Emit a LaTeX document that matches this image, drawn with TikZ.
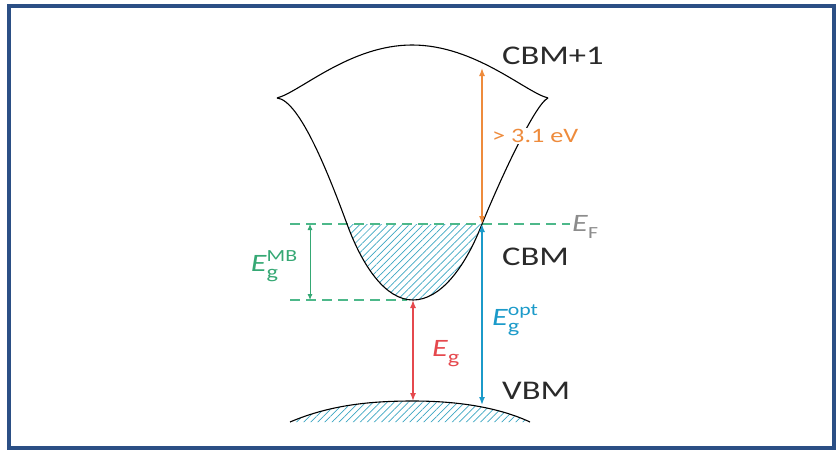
\documentclass[tikz,border=0pt]{standalone}
\usepackage{fontspec}
\setmainfont{Carlito}
\newfontfamily\lbl[FakeStretch=1.28]{Carlito}
\usetikzlibrary{arrows.meta,patterns.meta}
\definecolor{framec}{HTML}{2B4F85}
\definecolor{grn}{HTML}{35A874}
\definecolor{dashc}{HTML}{4DB88A}
\definecolor{hatchc}{HTML}{3CA6C2}
\definecolor{bluec}{HTML}{1B9AC9}
\definecolor{redc}{HTML}{E5484D}
\definecolor{orc}{HTML}{EE8B3C}
\definecolor{efc}{HTML}{8C8C8C}
\definecolor{txt}{HTML}{2A2A2A}
\newcommand{\Elab}[2]{\textit{E}\rlap{\raisebox{-0.6ex}{\fontsize{19}{19}\selectfont #1}}\raisebox{0.85ex}{\fontsize{17}{17}\selectfont #2}}
\tikzset{
  band/.style={draw=black, line width=1.1pt},
  hatch/.style={pattern={Lines[angle=45,distance=5pt,line width=0.7pt]}, pattern color=hatchc},
  dashline/.style={dashc, line width=1.1pt, dash pattern=on 10pt off 6pt},
  arr/.style={line width=1.4pt, {Latex[length=8pt,width=6pt]}-{Latex[length=8pt,width=6pt]}},
  garr/.style={line width=0.9pt, {Latex[length=6pt,width=5pt]}-{Latex[length=6pt,width=5pt]}},
  big/.style={font=\lbl\fontsize{27}{27}\selectfont, text=txt, inner sep=0pt, anchor=west},
  elab/.style={font=\lbl\fontsize{25}{25}\selectfont, inner sep=0pt},
}
\begin{document}
\begin{tikzpicture}[x=1pt, y=-1pt]
\useasboundingbox (0,0) rectangle (837,450);
\draw[framec, line width=3.5pt] (9,6) rectangle (834,448);

% key points
\coordinate (lc) at (277,98);
\coordinate (rc) at (548,98);
\coordinate (peak) at (412,45);
\coordinate (ef) at (482,224);
\coordinate (efl) at (347,224);
\coordinate (cmin) at (413,300);
\coordinate (ot) at (482,68);
\coordinate (vt) at (482,405);
\coordinate (vtop) at (413,401);
\coordinate (vl) at (290,422);
\coordinate (vr) at (530,422);
\coordinate (gt) at (310,224);
\coordinate (gb) at (310,300);
\coordinate (dl1) at (290,224);
\coordinate (dr1) at (570,224);
\coordinate (dl2) at (290,300);
\coordinate (dr2) at (407,300);

% hatched regions
\fill[hatch] (efl) .. controls (362,265) and (385,300) .. (cmin) .. controls (440,300) and (465,268) .. (ef) -- cycle;
\fill[hatch] (vl) .. controls (330,405) and (370,401) .. (vtop) .. controls (460,401) and (500,408) .. (vr) -- cycle;

% dashed levels
\draw[dashline] (dl1) -- (dr1);
\draw[dashline] (dl2) -- (dr2);

% bands
\draw[band] (lc) .. controls (300,92) and (350,45) .. (peak) .. controls (475,45) and (525,92) .. (rc);
\draw[band] (rc) .. controls (535,104) and (500,180) .. (ef) .. controls (465,268) and (440,300) .. (cmin)
  .. controls (385,300) and (362,265) .. (efl) .. controls (330,178) and (300,100) .. (lc);
\draw[band] (vl) .. controls (330,405) and (370,401) .. (vtop) .. controls (460,401) and (500,408) .. (vr);

% arrows
\draw[arr, orc] (ot) -- (ef);
\draw[arr, bluec] (ef) -- (vt);
\draw[arr, redc] (cmin) -- (vtop);
\draw[garr, grn] (gt) -- (gb);

% labels
\node[big] (cbm1) at (502,56) {CBM+1};
\node[big] (cbm) at (502,257) {CBM};
\node[big] (vbm) at (502,391) {VBM};
\node[font=\lbl\fontsize{20.5}{20.5}\selectfont, text=orc, fill=white, inner sep=1pt, anchor=west] (gap) at (491,136) {> 3.1 eV};
\node[elab, text=efc, anchor=west] (efn) at (572,227) {\textit{E}\raisebox{-0.55ex}{\fontsize{17}{17}\selectfont F}};
\node[elab, text=grn] (emb) at (274,266) {\Elab{g}{MB}};
\node[elab, text=bluec] (eopt) at (515,320) {\Elab{g}{opt}};
\node[elab, text=redc] (eg) at (440,354) {\Elab{g}{}};
\end{tikzpicture}
\end{document}
